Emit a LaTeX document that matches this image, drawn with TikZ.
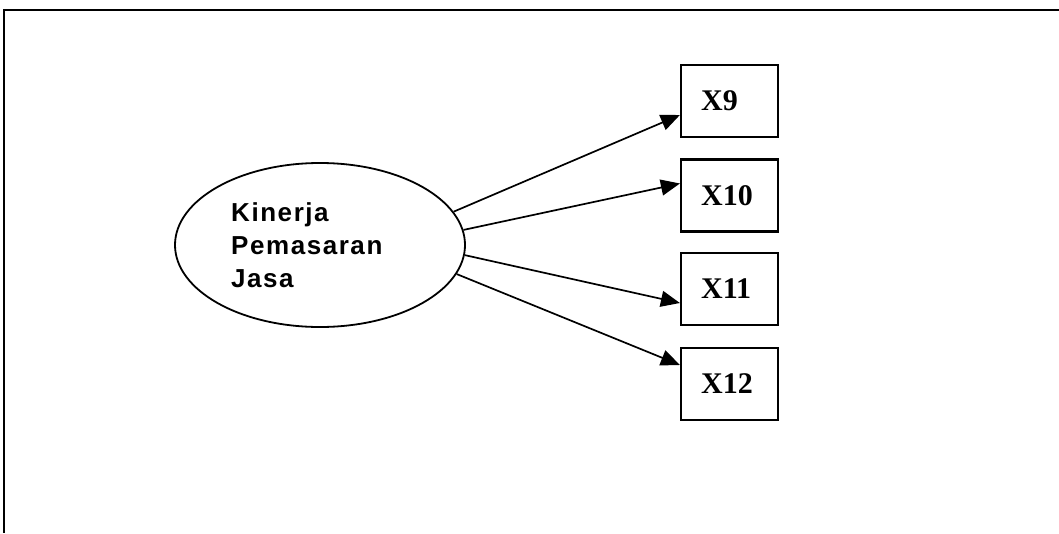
\documentclass[tikz,border=0pt]{standalone}
\usepackage{fontspec}
\setmainfont{Liberation Serif}
\newfontfamily\arialfont[LetterSpace=6]{Liberation Sans}
\usetikzlibrary{shapes.geometric,arrows.meta}

\begin{document}
\begin{tikzpicture}[x=1pt,y=-1pt,
  latent/.style={ellipse,draw=black,line width=1.8pt,minimum width=290pt,minimum height=164pt,inner sep=0pt},
  indicator/.style={rectangle,draw=black,line width=2.2pt,minimum width=97pt,minimum height=72pt,inner sep=0pt},
  indlabel/.style={anchor=west,font=\bfseries\fontsize{30}{30}\selectfont,inner sep=0pt},
  path/.style={line width=1.7pt,-{Triangle[length=19pt,width=16pt]}}]
\useasboundingbox (0,0) rectangle (1059,533);
%Frame
\draw [line width=2.4pt] (1059,10) -- (4,10) -- (4,533);
%Node Coordinates
\node at (320,245) [latent] (Kinerja) {};
\node at (231,245) [anchor=west,align=left,inner sep=0pt,font=\arialfont\bfseries\fontsize{26}{33}\selectfont] (KinerjaText) {Kinerja\\Pemasaran\\Jasa};
\node at (729.5,101) [indicator] (X9) {};
\node at (729.5,195.5) [indicator] (X10) {};
\node at (729.5,289) [indicator] (X11) {};
\node at (729.5,384) [indicator] (X12) {};
%Node Labels
\node at (701,101) [indlabel] {X9};
\node at (701,195.5) [indlabel] {X10};
\node at (701,289) [indlabel] {X11};
\node at (701,384) [indlabel] {X12};
%connections
\draw [path] (Kinerja.14) -- ([yshift=-14pt]X9.west);
\draw [path] (Kinerja.6) -- ([yshift=12pt]X10.west);
\draw [path] (Kinerja.-4) -- ([yshift=-14pt]X11.west);
\draw [path] (Kinerja.-12) -- ([yshift=19pt]X12.west);
\end{tikzpicture}
\end{document}
